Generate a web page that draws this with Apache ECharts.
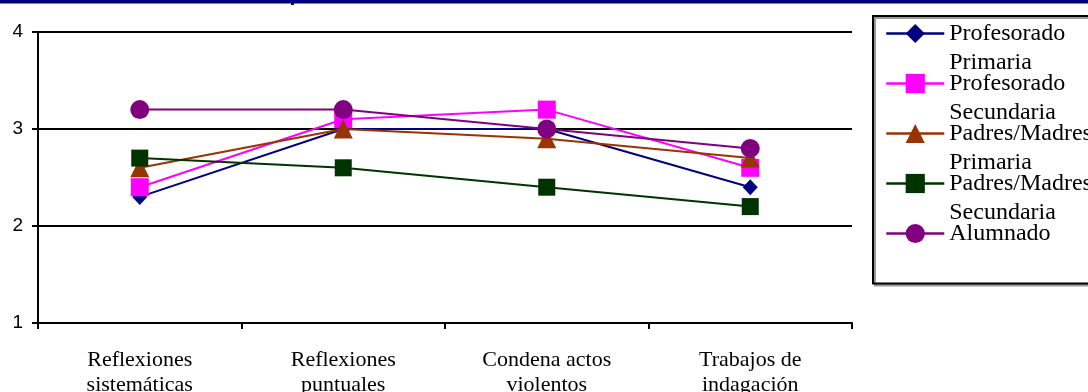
<!DOCTYPE html>
<html>
<head>
<meta charset="utf-8">
<script src="https://cdn.jsdelivr.net/npm/echarts@6/dist/echarts.min.js"></script>
<style>
  html, body { margin: 0; padding: 0; background: #fff; }
  #chart { width: 1088px; height: 392px; }
</style>
</head>
<body>
<div id="chart"></div>
<script>
const categories = ['Reflexiones sistemáticas', 'Reflexiones puntuales', 'Condena actos violentos', 'Trabajos de indagación'];
const yTicks = [1, 2, 3, 4];

const seriesNames = ['Profesorado Primaria', 'Profesorado Secundaria', 'Padres/Madres Primaria', 'Padres/Madres Secundaria', 'Alumnado'];
const profPrimaria = [2.3, 3.0, 3.0, 2.4];
const profSecundaria = [2.4, 3.1, 3.2, 2.6];
const padresPrimaria = [2.6, 3.0, 2.9, 2.7];
const padresSecundaria = [2.7, 2.6, 2.4, 2.2];
const alumnado = [3.2, 3.2, 3.0, 2.8];

const seriesData = [profPrimaria, profSecundaria, padresPrimaria, padresSecundaria, alumnado];
const colors = ['#000080', '#FF00FF', '#993300', '#003300', '#800080'];
const symbols = ['diamond', 'rect', 'triangle', 'rect', 'circle'];
const symbolSizes = [[15, 16], 18, 19, 17, 19];

const chart = echarts.init(document.getElementById('chart'), null, { renderer: 'canvas' });

const series = seriesNames.map((name, i) => ({
  name: name,
  type: 'line',
  data: seriesData[i],
  symbol: symbols[i],
  symbolSize: symbolSizes[i],
  showAllSymbol: true,
  lineStyle: { color: colors[i], width: 2 },
  itemStyle: { color: colors[i], opacity: 1 },
  emphasis: { disabled: true },
  z: 2 + i
}));

chart.setOption({
  animation: false,
  backgroundColor: '#ffffff',
  color: colors,
  grid: { left: 38, right: 236, top: 32, bottom: 69, containLabel: false, outerBoundsMode: 'none' },
  xAxis: {
    type: 'category',
    data: categories,
    boundaryGap: true,
    axisLine: { show: true, lineStyle: { color: '#000', width: 2 } },
    axisTick: { show: true, alignWithLabel: false, length: 6, inside: false, lineStyle: { color: '#000', width: 2 } },
    axisLabel: {
      margin: 25,
      interval: 0,
      color: '#000',
      fontFamily: 'Liberation Serif',
      fontSize: 22,
      lineHeight: 25,
      formatter: function (v) {
        const k = v.lastIndexOf(' ');
        return k > 0 ? v.slice(0, k) + '\n' + v.slice(k + 1) : v;
      }
    },
    splitLine: { show: false }
  },
  yAxis: {
    type: 'value',
    min: yTicks[0],
    max: yTicks[yTicks.length - 1],
    interval: 1,
    axisLine: { show: true, lineStyle: { color: '#000', width: 2 } },
    axisTick: { show: true, length: 6, inside: false, lineStyle: { color: '#000', width: 2 } },
    axisLabel: {
      margin: 15,
      color: '#000',
      fontFamily: 'Liberation Sans',
      fontSize: 19
    },
    splitLine: { show: true, lineStyle: { color: '#000', width: 2 } }
  },
  legend: {
    orient: 'vertical',
    left: 873,
    top: 16,
    padding: [-26, 20, 6.5, 12],
    itemGap: -37,
    itemWidth: 58,
    itemHeight: 24,
    backgroundColor: '#ffffff',
    borderColor: '#000',
    borderWidth: 2,
    borderRadius: 0,
    shadowColor: '#999',
    shadowBlur: 0,
    shadowOffsetX: 2,
    shadowOffsetY: 2,
    selectedMode: false,
    lineStyle: { width: 2.5 },
    data: seriesNames,
    textStyle: {
      color: '#000',
      fontFamily: 'Liberation Serif',
      fontSize: 24,
      lineHeight: 29
    },
    formatter: function (name) {
      const k = name.indexOf(' ');
      return k > 0 ? '\n' + name.slice(0, k) + '\n' + name.slice(k + 1) : '\n' + name + '\n ';
    }
  },
  graphic: [
    { type: 'rect', left: 0, top: 0, shape: { width: 1088, height: 3.5 }, style: { fill: '#000080' }, silent: true },
    { type: 'rect', left: 291, top: 0, shape: { width: 3, height: 5 }, style: { fill: '#000080' }, silent: true }
  ],
  series: series
});
</script>
</body>
</html>
